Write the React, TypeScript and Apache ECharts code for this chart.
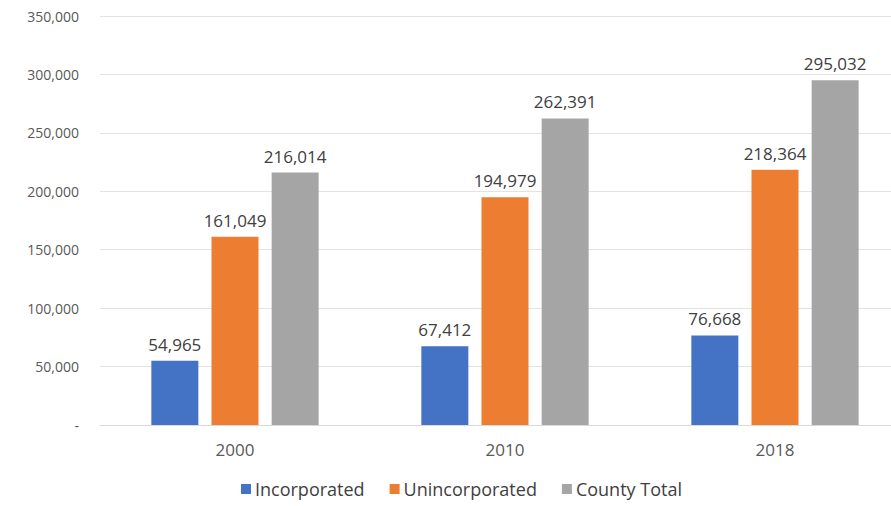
import React, { useEffect, useRef } from "react";
import * as echarts from "echarts";

const categories = ["2000", "2010", "2018"];
const incorporated = [54965, 67412, 76668];
const unincorporated = [161049, 194979, 218364];
const countyTotal = [216014, 262391, 295032];
const seriesNames = ["Incorporated", "Unincorporated", "County Total"];
const colors = ["#4472C4", "#ED7D31", "#A5A5A5"];

const fmt = (v: number) => (v === 0 ? "-" : v.toLocaleString("en-US"));
const FONT = "'Open Sans', 'Noto Sans', sans-serif";

export default function App() {
  const ref = useRef<HTMLDivElement>(null);
  useEffect(() => {
    document.body.style.margin = "0";
    const chart = echarts.init(ref.current!, null, { renderer: "svg" });
    const mk = (name: string, data: number[], color: string) => ({
      name,
      type: "bar",
      data,
      barWidth: 47,
      barGap: "28%",
      itemStyle: { color },
      label: {
        show: true,
        position: "top",
        distance: 8,
        color: "#404040",
        fontSize: 17,
        fontFamily: FONT,
        formatter: (p: any) => fmt(p.value),
      },
    });
    chart.setOption({
      animation: false,
      backgroundColor: "#ffffff",
      textStyle: { fontFamily: FONT },
      grid: { left: 100, right: 0, top: 16, bottom: 81 },
      legend: {
        bottom: 3,
        left: 236,
        itemWidth: 10,
        itemHeight: 10,
        itemGap: 25,
        icon: "rect",
        textStyle: { color: "#404040", fontSize: 18, fontFamily: FONT, padding: [0, 0, 0, -1] },
        data: seriesNames,
      },
      xAxis: {
        type: "category",
        data: categories,
        axisTick: { show: false },
        axisLine: { lineStyle: { color: "#D9D9D9" } },
        axisLabel: { color: "#595959", fontSize: 17, margin: 16, fontFamily: FONT },
      },
      yAxis: {
        type: "value",
        min: 0,
        max: 350000,
        interval: 50000,
        axisLabel: {
          color: "#595959",
          fontSize: 14,
          margin: 21,
          fontFamily: FONT,
          formatter: (v: number) => fmt(v),
        },
        splitLine: { lineStyle: { color: "#E3E3E3" } },
        axisLine: { show: false },
        axisTick: { show: false },
      },
      series: [
        mk(seriesNames[0], incorporated, colors[0]),
        mk(seriesNames[1], unincorporated, colors[1]),
        mk(seriesNames[2], countyTotal, colors[2]),
      ],
    });
    return () => chart.dispose();
  }, []);
  return (
    <div style={{ width: 891, height: 506, overflow: "hidden", position: "relative" }}>
      <div ref={ref} style={{ width: 910, height: 506 }} />
    </div>
  );
}
